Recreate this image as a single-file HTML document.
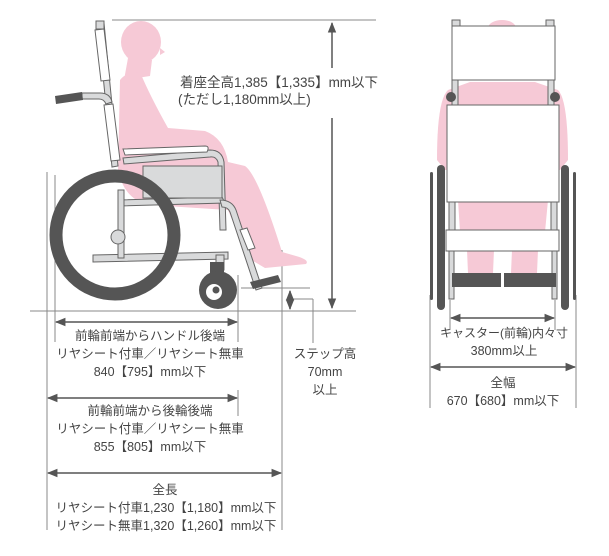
<!DOCTYPE html>
<html><head><meta charset="utf-8"><style>
html,body{margin:0;padding:0;background:#fff;}
svg{display:block;}
text{font-family:"Liberation Sans","Noto Sans CJK JP",sans-serif;font-size:12.5px;fill:#444;}
</style></head><body>
<svg width="609" height="556" viewBox="0 0 609 556" xmlns="http://www.w3.org/2000/svg">
<defs>
<marker id="a" viewBox="0 0 10 10" refX="9" refY="5" markerWidth="7" markerHeight="7" orient="auto-start-reverse"><path d="M0,1 L10,5 L0,9 z" fill="#555"/></marker>
</defs>
<g stroke="#888" stroke-width="1" fill="none">
<line x1="112" y1="20" x2="376" y2="20"/>
<line x1="30" y1="311" x2="356" y2="311"/>
<line x1="55" y1="175" x2="55" y2="342"/>
<line x1="47" y1="172" x2="47" y2="530"/>
<line x1="238" y1="275" x2="238" y2="342"/>
<line x1="238" y1="390" x2="238" y2="416"/>
<line x1="282" y1="250" x2="282" y2="530"/>
<line x1="241" y1="288" x2="310" y2="288"/>
<line x1="293" y1="299" x2="313" y2="299"/>
<line x1="313" y1="299" x2="313" y2="343"/>
<line x1="430" y1="295" x2="430" y2="408"/>
<line x1="576" y1="295" x2="576" y2="408"/>
<line x1="450" y1="300" x2="450" y2="330"/>
<line x1="555" y1="300" x2="555" y2="330"/>
</g>
<g stroke="#555" stroke-width="1.5" fill="none">
<line x1="332" y1="23" x2="332" y2="68" marker-start="url(#a)"/>
<line x1="332" y1="118" x2="332" y2="308" marker-end="url(#a)"/>
<line x1="290" y1="291" x2="290" y2="309" marker-start="url(#a)" marker-end="url(#a)"/>
<line x1="56" y1="322" x2="237" y2="322" marker-start="url(#a)" marker-end="url(#a)"/>
<line x1="48" y1="398" x2="237" y2="398" marker-start="url(#a)" marker-end="url(#a)"/>
<line x1="48" y1="473" x2="281" y2="473" marker-start="url(#a)" marker-end="url(#a)"/>
<line x1="451" y1="318" x2="554" y2="318" marker-start="url(#a)" marker-end="url(#a)"/>
<line x1="431" y1="367" x2="575" y2="367" marker-start="url(#a)" marker-end="url(#a)"/>
</g>

<!-- SIDE VIEW -->
<g fill="#f6c9d6">
<ellipse cx="141" cy="42" rx="20" ry="21"/>
<path d="M160,48 L165,52 L160,55 Z"/>
<path d="M128,58 L152,60 L150,76 L124,80 Z"/>
<path d="M120,80 Q126,72 140,72 Q150,96 168,128 L205,131 Q224,138 228,162 L245,166 Q258,175 282,252 L296,256 Q310,260 306,264 L265,268 L248,258 L228,210 L150,205 Q124,200 118,170 Z"/>
</g>
<g stroke="#666" stroke-width="1" fill="#d9dadb">
<path d="M98,24 L104,23 L118,166 L112,167 Z"/>
<rect x="96" y="21" width="8" height="8"/>
<path d="M95,30 L104,29 L110,80 L101,81 Z" fill="#fff"/>
<path d="M104,105 L113,104 L120,160 L111,161 Z" fill="#fff"/>
<path d="M82,93 L100,93 Q110,93 112,102 L106,104 Q104,99 99,99 L82,99 Z"/>
<path d="M123,158 L210,150 Q222,150 224,162 L226,230 L220,230 L218,162 Q216,156 210,157 L124,164 Z"/>
<path d="M118,200 L222,197 L225,203 L118,206 Z"/>
<path d="M93,255 L228,252 L228,259 L93,262 Z"/>
<path d="M118,190 L124,190 L124,258 L118,258 Z"/>
<path d="M220,200 Q232,200 236,210 L262,288 L256,290 L230,212 Q228,207 222,207 Z"/>
<path d="M216,255 L224,255 L224,270 L216,270 Z"/>
<path d="M240,230 L247,228 L255,248 L248,250 Z" fill="#fff"/>
<path d="M123,149 L205,146 Q210,146 207,152 L125,155 Z" fill="#fff"/>
</g>
<rect x="143" y="166" width="79" height="32" fill="#d9dadb" stroke="#666"/>
<path d="M55,96 L82,92 L83,100 L56,104 Z" fill="#555"/>
<path d="M250,282 L278,275 L281,282 L253,289 Z" fill="#555"/>
<rect x="210" y="262" width="14" height="14" fill="#555"/>
<circle cx="115" cy="235" r="59" fill="none" stroke="#555" stroke-width="13"/>
<circle cx="118" cy="237" r="7" fill="#d9dadb" stroke="#666"/>
<circle cx="218" cy="290" r="19" fill="#555"/>
<circle cx="214" cy="292" r="8" fill="#fff"/>
<circle cx="216" cy="290" r="3.5" fill="#555"/>

<!-- FRONT VIEW -->
<g fill="#f6c9d6">
<ellipse cx="502" cy="28" rx="14" ry="8"/>
<path d="M448,90 L470,82 L535,82 L558,90 Q568,100 568,160 L560,170 L445,170 L437,160 Q437,100 448,90 Z"/>
<path d="M458,200 L548,200 L545,232 L460,232 Z"/>
<path d="M467,250 L494,250 L493,273 L468,273 Z"/>
<path d="M512,250 L538,250 L537,273 L511,273 Z"/>
</g>
<g stroke="#666" stroke-width="1" fill="#d9dadb">
<rect x="452" y="20" width="8" height="8"/>
<rect x="546" y="20" width="8" height="8"/>
<rect x="452" y="78" width="6" height="28"/>
<rect x="548" y="78" width="6" height="28"/>
<rect x="449" y="202" width="6" height="30"/>
<rect x="551" y="202" width="6" height="30"/>
<rect x="449" y="251" width="5" height="48"/>
<rect x="552" y="251" width="5" height="48"/>
<rect x="452" y="26" width="103" height="54" fill="#fff"/>
<rect x="447" y="105" width="112" height="97" fill="#fff"/>
<rect x="446" y="230" width="113" height="21" fill="#fff"/>
</g>
<circle cx="451" cy="97" r="5" fill="#555"/>
<circle cx="555" cy="97" r="5" fill="#555"/>
<rect x="437" y="165" width="8" height="145" rx="4" fill="#555"/>
<rect x="561" y="165" width="8" height="145" rx="4" fill="#555"/>
<rect x="430" y="172" width="3" height="128" rx="1.5" fill="#555"/>
<rect x="573" y="172" width="3" height="128" rx="1.5" fill="#555"/>
<rect x="452" y="273" width="49" height="14" fill="#555"/>
<rect x="504" y="273" width="52" height="14" fill="#555"/>

<!-- TEXT -->
<text x="180" y="87" style="font-size:13.5px">着座全高1,385【1,335】mm以下</text>
<text x="178" y="104" style="font-size:13.5px">(ただし1,180mm以上)</text>
<g text-anchor="middle">
<text x="150" y="340">前輪前端からハンドル後端</text>
<text x="150" y="358">リヤシート付車／リヤシート無車</text>
<text x="150" y="376">840【795】mm以下</text>
<text x="150" y="415">前輪前端から後輪後端</text>
<text x="150" y="433">リヤシート付車／リヤシート無車</text>
<text x="150" y="451">855【805】mm以下</text>
<text x="165" y="494">全長</text>
<text x="166" y="512">リヤシート付車1,230【1,180】mm以下</text>
<text x="166" y="530">リヤシート無車1,320【1,260】mm以下</text>
<text x="325" y="358">ステップ高</text>
<text x="325" y="376">70mm</text>
<text x="325" y="394">以上</text>
<text x="504" y="337" style="font-size:12px">キャスター(前輪)内々寸</text>
<text x="504" y="355">380mm以上</text>
<text x="503" y="387">全幅</text>
<text x="503" y="405">670【680】mm以下</text>
</g>
</svg>
</body></html>
